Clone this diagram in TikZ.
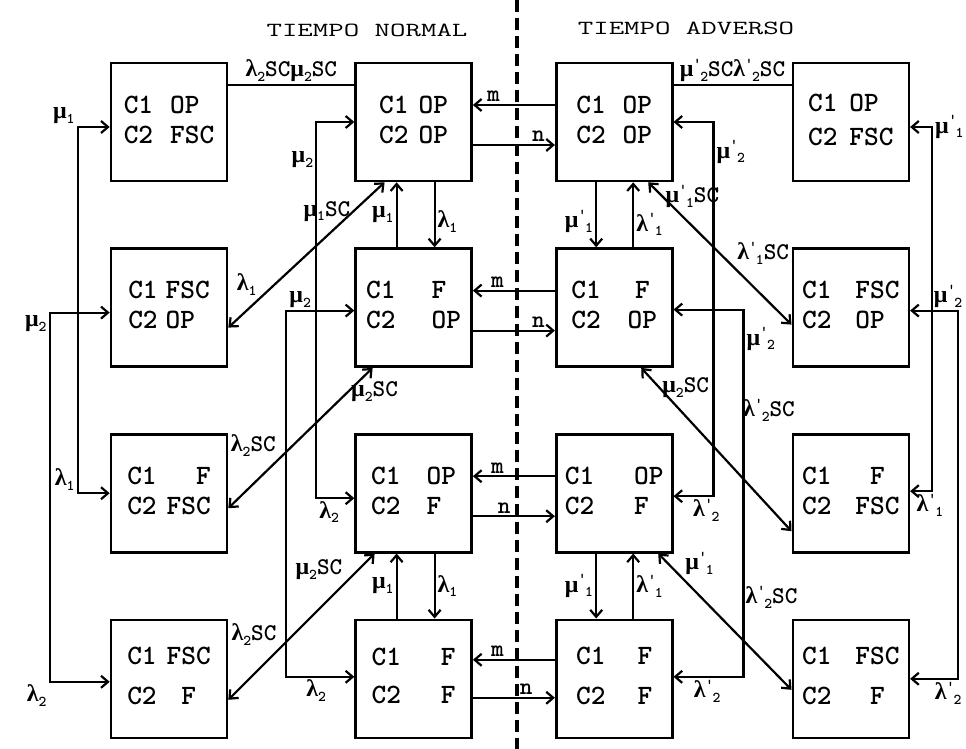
\documentclass[tikz,border=0pt]{standalone}
\usepackage{fontspec}
\newfontfamily\grk{Liberation Serif}
\usetikzlibrary{arrows.meta,positioning}
\newcommand{\lmb}{{\grk λ}}
\newcommand{\mub}{{\grk μ}}
\newcommand{\ix}[1]{\raisebox{-.45ex}{\fontsize{15bp}{15bp}\selectfont#1}}
\newcommand{\ixp}[1]{\raisebox{.8ex}{\fontsize{15bp}{15bp}\selectfont'}\kern-1bp\ix{#1}}
\newcommand{\comp}[4]{\begin{tabular}{@{}l@{\hspace{#1}}l@{}}C1&#3\\[#2]C2&#4\end{tabular}}
\tikzset{box/.style={draw,line width=2.6bp,minimum width=116bp,minimum height=118bp,inner sep=0pt,font=\ttfamily\bfseries\fontsize{28bp}{30bp}\selectfont},edge/.style={->,line width=2.2bp},twoway/.style={<->,line width=2.2bp},bare/.style={line width=2.2bp},lab/.style={font=\ttfamily\bfseries\fontsize{24bp}{26bp}\selectfont,inner sep=2bp},ttl/.style={font=\ttfamily\fontsize{20bp}{24bp}\selectfont},divider/.style={line width=4bp,dash pattern=on 12bp off 6bp}}

\begin{document}
\begin{tikzpicture}[x=1bp,y=-1bp,>={Straight Barb[length=7bp,width=12bp]}]
\useasboundingbox (0,0) rectangle (966,749);
\node[ttl] (normal) at (367,30) {\scalebox{1.5}[1]{TIEMPO NORMAL}};
\node[ttl] (adverso) at (686,28) {\scalebox{1.5}[1]{TIEMPO ADVERSO}};
% tiempo normal
\node[box] (a1) at (169,122) {\comp{17bp}{0bp}{OP}{FSC}};
\node[box,below=65bp of a1] (a2) {\comp{8bp}{0bp}{FSC}{OP}};
\node[box,below=65bp of a2] (a3) {\comp{10bp}{0bp}{\hfill F}{FSC}};
\node[box,below=65bp of a3] (a4) {\comp{10bp}{10bp}{FSC}{\hfil F}};
\node[box,right=126bp of a1] (b1) {\comp{10bp}{0bp}{OP}{OP}};
\node[box,below=65bp of b1] (b2) {\comp{36bp}{0bp}{F}{OP}};
\node[box,below=65bp of b2] (b3) {\comp{26bp}{0bp}{OP}{F}};
\node[box,below=65bp of b3] (b4) {\comp{40bp}{8bp}{F}{F}};
% tiempo adverso
\node[box,right=82bp of b1] (c1) {\comp{17bp}{0bp}{OP}{OP}};
\node[box,below=65bp of c1] (c2) {\comp{27bp}{0bp}{\hfil F}{OP}};
\node[box,below=65bp of c2] (c3) {\comp{40bp}{0bp}{OP}{F}};
\node[box,below=65bp of c3] (c4) {\comp{32bp}{10bp}{F}{F}};
\node[box,right=118bp of c1] (d1) {\comp{12bp}{4bp}{OP}{FSC}};
\node[box,below=65bp of d1] (d2) {\comp{24bp}{0bp}{FSC}{OP}};
\node[box,below=65bp of d2] (d3) {\comp{24bp}{0bp}{\hfil F}{FSC}};
\node[box,below=65bp of d3] (d4) {\comp{24bp}{10bp}{FSC}{\hfil F}};
\draw[divider] (517,0) -- (517,749);
% left side
\draw[twoway] ([yshift=-5bp]a1.west) -- ++(-32,0) node[lab,at end,above left]{\mub\ix{1}} |- (a3.west) node[lab,pos=.5,above left]{\lmb\ix{1}};
\draw[twoway] ([yshift=-5bp]a2.west) -- ++(-60,0) node[lab,at end,below left]{\mub\ix{2}} |- ([yshift=-3bp]a4.west) node[lab,pos=.5,below left]{\lmb\ix{2}};
\draw[bare] ([yshift=37bp]a1.east) -- ([yshift=37bp]b1.west) node[lab,midway,above]{\lmb\ix{2}SC\mub\ix{2}SC};
\draw[twoway] (b1.west) -- ++(-38,0) |- ([yshift=-5bp]b3.west) node[lab,pos=.05,left]{\mub\ix{2}} node[lab,pos=.5,below right]{\lmb\ix{2}};
\draw[twoway] ([yshift=-3bp]b2.west) -- ++(-68,0) node[lab,at end,above right]{\mub\ix{2}} |- ([yshift=2bp]b4.west) node[lab,pos=.72,below]{\lmb\ix{2}};
\draw[twoway] ([yshift=-20bp]a2.east) -- ([xshift=-29bp]b1.south) node[lab,pos=.2,above left]{\lmb\ix{1}} node[lab,pos=.8,left]{\mub\ix{1}SC};
\draw[twoway] ([yshift=-15bp]a3.east) -- ([xshift=-41bp]b2.south) node[lab,pos=.35,above left]{\lmb\ix{2}SC} node[lab,pos=.83,right]{\mub\ix{2}SC};
\draw[twoway] ([yshift=-21bp]a4.east) -- ([xshift=-39bp]b3.south) node[lab,pos=.35,above left]{\lmb\ix{2}SC} node[lab,pos=.8,above left]{\mub\ix{2}SC};
% normal column
\draw[edge] ([xshift=21bp]b1.south) -- ([xshift=21bp]b2.north) node[lab,pos=.6,right]{\lmb\ix{1}};
\draw[edge] ([xshift=-17bp]b2.north) -- ([xshift=-17bp]b1.south) node[lab,midway,left]{\mub\ix{1}};
\draw[edge] ([xshift=21bp]b3.south) -- ([xshift=21bp]b4.north) node[lab,midway,right]{\lmb\ix{1}};
\draw[edge] ([xshift=-17bp]b4.north) -- ([xshift=-17bp]b3.south) node[lab,midway,left]{\mub\ix{1}};
% normal <-> adverso
\draw[edge] ([yshift=17bp]c1.west) -- ([yshift=17bp]b1.east) node[lab,pos=.75,above]{m};
\draw[edge] ([yshift=-23bp]b1.east) -- ([yshift=-23bp]c1.west) node[lab,pos=.8,above]{n};
\draw[edge] ([yshift=17bp]c2.west) -- ([yshift=17bp]b2.east) node[lab,pos=.7,above]{m};
\draw[edge] ([yshift=-23bp]b2.east) -- ([yshift=-23bp]c2.west) node[lab,pos=.8,above]{n};
\draw[edge] ([yshift=17bp]c3.west) -- ([yshift=17bp]b3.east) node[lab,pos=.7,above]{m};
\draw[edge] ([yshift=-23bp]b3.east) -- ([yshift=-23bp]c3.west) node[lab,pos=.38,above]{n};
\draw[edge] ([yshift=19bp]c4.west) -- ([yshift=19bp]b4.east) node[lab,pos=.7,above]{m};
\draw[edge] ([yshift=-19bp]b4.east) -- ([yshift=-19bp]c4.west) node[lab,pos=.65,above]{n};
% adverso column
\draw[edge] ([xshift=-18bp]c1.south) -- ([xshift=-18bp]c2.north) node[lab,pos=.6,left]{\mub\ixp{1}};
\draw[edge] ([xshift=19bp]c2.north) -- ([xshift=19bp]c1.south) node[lab,pos=.35,right]{\lmb\ixp{1}};
\draw[edge] ([xshift=-18bp]c3.south) -- ([xshift=-18bp]c4.north) node[lab,midway,left]{\mub\ixp{1}};
\draw[edge] ([xshift=19bp]c4.north) -- ([xshift=19bp]c3.south) node[lab,midway,right]{\lmb\ixp{1}};
% right side
\draw[bare] ([yshift=37bp]c1.east) -- ([yshift=37bp]d1.west) node[lab,midway,above]{\mub\ixp{2}SC\lmb\ixp{2}SC};
\draw[twoway] (c1.east) -- ++(40,0) |- ([yshift=-3bp]c3.east) node[lab,pos=.04,right]{\mub\ixp{2}} node[lab,pos=.59,below]{\lmb\ixp{2}};
\draw[twoway] ([yshift=-2bp]c2.east) -- ++(70,0) |- ([yshift=2bp]c4.east) node[lab,pos=.04,right]{\mub\ixp{2}} node[lab,pos=.76,below]{\lmb\ixp{2}};
\draw[twoway] ([xshift=34bp]c1.south) -- ([yshift=-17bp]d2.west) node[lab,pos=.1,right]{\mub\ixp{1}SC} node[lab,pos=.6,above right]{\lmb\ixp{1}SC};
\draw[twoway] ([xshift=27bp]c2.south) -- ([yshift=-38bp]d3.west) node[lab,pos=.12,right]{\mub\ix{2}SC} node[lab,pos=.85,above=82bp]{\lmb\ixp{2}SC};
\draw[twoway] ([xshift=44bp]c3.south) -- ([yshift=-11bp]d4.west) node[lab,pos=.18,above right]{\mub\ixp{1}} node[lab,pos=.85,above=58bp]{\lmb\ixp{2}SC};
\draw[twoway] ([yshift=-5bp]d1.east) -- ++(22,0) node[lab,at end,right]{\mub\ixp{1}} |- ([yshift=2bp]d3.east) node[lab,pos=.55,below]{\lmb\ixp{1}};
\draw[twoway] ([yshift=-3bp]d2.east) -- ++(48,0) node[lab,at end,above,xshift=-10bp]{\mub\ixp{2}} |- (d4.east) node[lab,pos=.5,below,xshift=-10bp]{\lmb\ixp{2}};
\end{tikzpicture}
\end{document}
